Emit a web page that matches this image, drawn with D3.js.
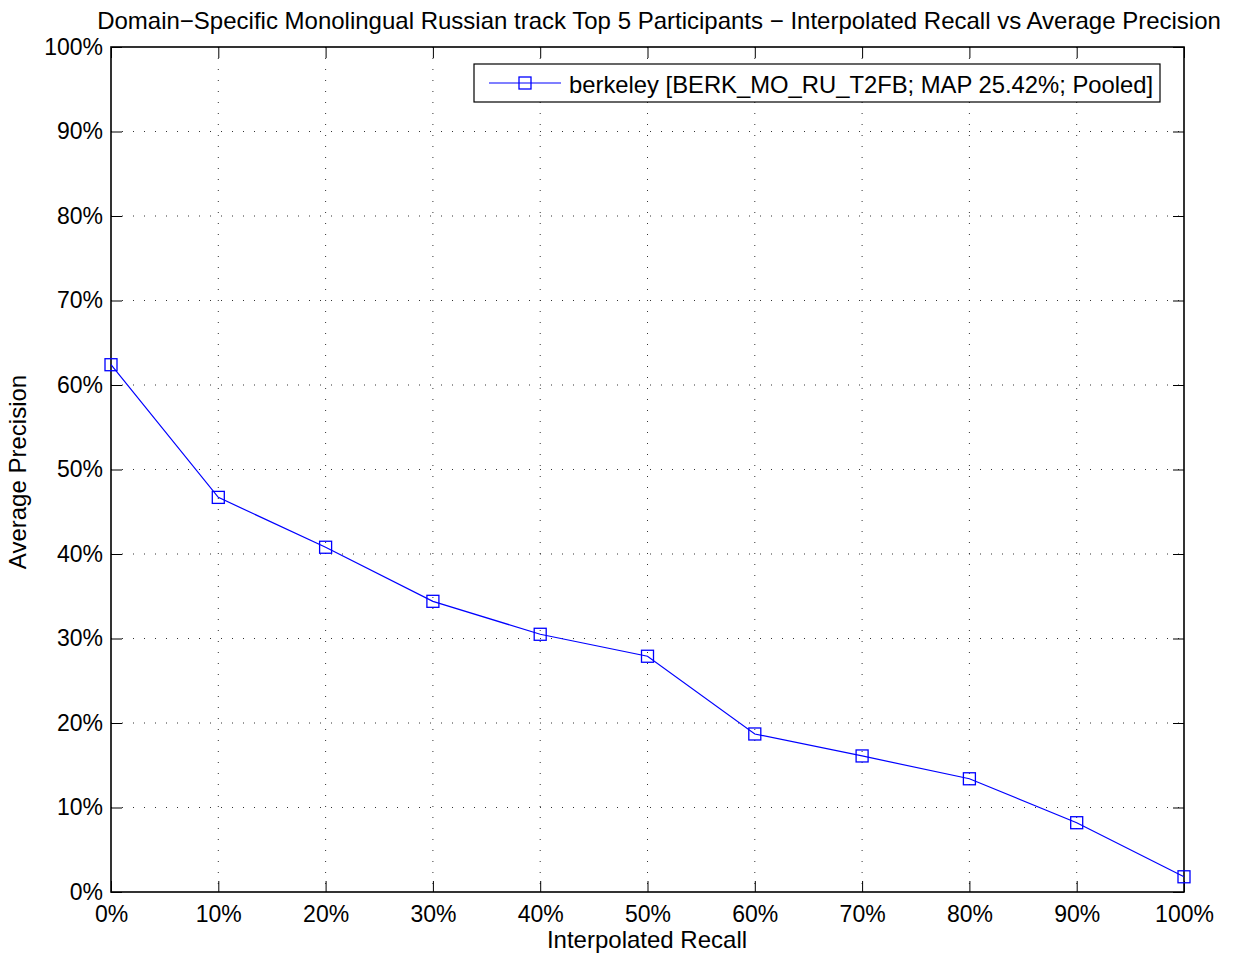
<!DOCTYPE html>
<html><head><meta charset="utf-8">
<script src="https://cdn.jsdelivr.net/npm/d3@7"></script>
<style>body{margin:0;background:#fff;} text{font-family:"Liberation Sans",Arial,Helvetica,sans-serif;fill:#000;}</style>
</head><body>
<svg id="c" width="1234" height="958"></svg>
<script>
const recall = [0,10,20,30,40,50,60,70,80,90,100];
const precision = [62.4,46.7,40.8,34.4,30.5,27.9,18.7,16.1,13.4,8.2,1.8];
const xTicks = [0,10,20,30,40,50,60,70,80,90,100];
const yTicks = [0,10,20,30,40,50,60,70,80,90,100];
const seriesName = "berkeley [BERK_MO_RU_T2FB; MAP 25.42%; Pooled]";
const title = "Domain\u2212Specific Monolingual Russian track Top 5 Participants \u2212 Interpolated Recall vs Average Precision";

const L=111,R=1184,T=47,B=892;
const svg=d3.select("#c");
svg.append("rect").attr("width",1234).attr("height",958).attr("fill","#fff");
const x=d3.scaleLinear().domain([0,100]).range([L,R]);
const y=d3.scaleLinear().domain([0,100]).range([B,T]);

// grid
const g=svg.append("g");
g.selectAll(".gx").data(xTicks.slice(1,-1)).enter().append("line")
 .attr("x1",d=>x(d)).attr("x2",d=>x(d)).attr("y1",T).attr("y2",B)
 .attr("stroke","#333").attr("stroke-width",1).attr("stroke-dasharray","1,10");
g.selectAll(".gy").data(yTicks.slice(1,-1)).enter().append("line")
 .attr("y1",d=>y(d)).attr("y2",d=>y(d)).attr("x1",L).attr("x2",R)
 .attr("stroke","#333").attr("stroke-width",1).attr("stroke-dasharray","1,10");

// axes
const fmt=d=>d+"%";
const xa=d3.axisBottom(x).tickValues(xTicks).tickFormat(fmt).tickSizeInner(-11).tickSizeOuter(0).tickPadding(14);
const ya=d3.axisLeft(y).tickValues(yTicks).tickFormat(fmt).tickSizeInner(-11).tickSizeOuter(0).tickPadding(8);
const xt=d3.axisTop(x).tickValues(xTicks).tickFormat("").tickSizeInner(-11).tickSizeOuter(0);
const yr=d3.axisRight(y).tickValues(yTicks).tickFormat("").tickSizeInner(-11).tickSizeOuter(0);
function style(sel){sel.select(".domain").remove();sel.selectAll("line").attr("stroke","#000").attr("stroke-width",1);sel.selectAll("text").attr("font-size",23).attr("font-family","Liberation Sans, Arial, sans-serif");}
svg.append("g").attr("transform",`translate(0,${B})`).call(xa).call(style);
svg.append("g").attr("transform",`translate(${L},0)`).call(ya).call(style);
svg.append("g").attr("transform",`translate(0,${T})`).call(xt).call(style);
svg.append("g").attr("transform",`translate(${R},0)`).call(yr).call(style);
svg.append("rect").attr("x",L).attr("y",T).attr("width",R-L).attr("height",B-T)
 .attr("fill","none").attr("stroke","#000").attr("stroke-width",1.6);

// line
const data=recall.map((r,i)=>({r,p:precision[i]}));
svg.append("path").datum(data).attr("fill","none").attr("stroke","#0000ff").attr("stroke-width",1.2)
 .attr("d",d3.line().x(d=>x(d.r)).y(d=>y(d.p)));
svg.selectAll(".m").data(data).enter().append("rect")
 .attr("x",d=>x(d.r)-6).attr("y",d=>y(d.p)-6).attr("width",12).attr("height",12)
 .attr("fill","none").attr("stroke","#0000ff").attr("stroke-width",1.3);

// legend
const lg=svg.append("g");
lg.append("rect").attr("x",474).attr("y",64).attr("width",686).attr("height",38)
 .attr("fill","#fff").attr("stroke","#000").attr("stroke-width",1.2);
lg.append("line").attr("x1",489).attr("x2",561).attr("y1",83).attr("y2",83).attr("stroke","#0000ff").attr("stroke-width",1.2);
lg.append("rect").attr("x",519).attr("y",77).attr("width",12).attr("height",12).attr("fill","none").attr("stroke","#0000ff").attr("stroke-width",1.3);
lg.append("text").attr("x",569).attr("y",93).attr("font-size",23.8).text(seriesName);

// labels
svg.append("text").attr("x",659).attr("y",29).attr("text-anchor","middle").attr("font-size",24).text(title);
svg.append("text").attr("x",647).attr("y",948).attr("text-anchor","middle").attr("font-size",24).text("Interpolated Recall");
svg.append("text").attr("transform","translate(26,472) rotate(-90)").attr("text-anchor","middle").attr("font-size",24).text("Average Precision");
</script>
</body></html>
